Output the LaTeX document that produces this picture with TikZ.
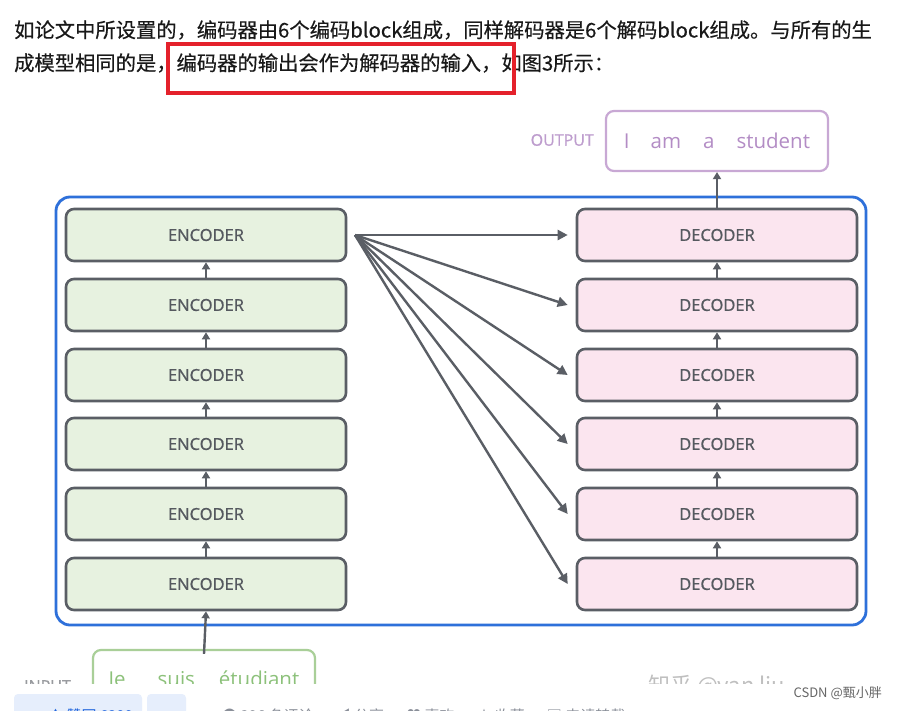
\documentclass[tikz,border=0pt]{standalone}
\usepackage{fontspec}
\setmainfont{Open Sans}
\newfontfamily\cjk{Noto Sans CJK SC}
\newfontfamily\cjkb[FakeBold=0.4]{Noto Sans CJK SC}
\newfontfamily\osans{Open Sans}
\newfontfamily\osemi[FakeBold=0.9]{Open Sans}
\usetikzlibrary{arrows.meta}
\definecolor{boxline}{HTML}{5A5E65}
\definecolor{encfill}{HTML}{E7F2E0}
\definecolor{decfill}{HTML}{FBE5EF}
\definecolor{outerblue}{HTML}{2E70DA}
\definecolor{redmark}{HTML}{E4212B}
\definecolor{labelgray}{HTML}{55595F}
\definecolor{outline}{HTML}{C8A8D4}
\definecolor{outtext}{HTML}{B38CC5}
\definecolor{inline}{HTML}{A9CF98}
\definecolor{intext}{HTML}{8CC17A}
\definecolor{barblue}{HTML}{E6EEFC}
\definecolor{linkblue}{HTML}{2266DD}
\definecolor{bargray}{HTML}{8A8F99}
\tikzset{
  block/.style={draw=boxline, line width=2.6pt, rounded corners=8pt, minimum width=280pt, minimum height=52pt, inner sep=0pt, font=\osemi\fontsize{16.5}{16.5}\selectfont, text=labelgray},
  encbox/.style={block, fill=encfill},
  decbox/.style={block, fill=decfill},
  arr/.style={draw=boxline, line width=2.4pt, -{Triangle[length=10pt,width=10pt]}},
  sarr/.style={draw=boxline, line width=2.4pt, -{Triangle[length=7pt,width=8pt]}},
  bodytext/.style={anchor=west, inner sep=0pt, font=\cjkb\fontsize{20.3}{20.3}\selectfont, text=black!90},
}
\begin{document}
\begin{tikzpicture}[x=1pt,y=-1pt]
\useasboundingbox (0,0) rectangle (897,710);
\fill[white] (0,0) rectangle (897,710);
% body text
\node[bodytext] (t1) at (14,30) {如论文中所设置的，编码器由6个编码block组成，同样解码器是6个解码block组成。与所有的生};
\node[bodytext] (t2) at (14,63) {成模型相同的是，编码器的输出会作为解码器的输入，如图3所示：};
\draw[redmark, line width=4pt] (168,44) rectangle (514,93);
% outer box
\draw[outerblue, line width=2.8pt, rounded corners=14pt] (56,197) rectangle (866,625);
% encoders and decoders
\foreach \i/\y in {1/235,2/305,3/375,4/444,5/514,6/584}{
  \node[encbox] (e\i) at (206,\y) {ENCODER};
  \node[decbox] (d\i) at (717,\y) {DECODER};
}
\foreach \a/\b in {2/1,3/2,4/3,5/4,6/5}{
  \draw[sarr] (e\a.north) -- (e\b.south);
  \draw[sarr] (d\a.north) -- (d\b.south);
}
% fan of connections
\coordinate (fan) at (355,235);
\foreach \i in {1,...,6}{
  \draw[arr] (fan) -- ([xshift=-8pt]d\i.west);
}
% output
\node[draw=outline, line width=2.2pt, rounded corners=8pt, minimum width=222pt, minimum height=60pt, font=\osans\fontsize{20.5}{20.5}\selectfont, text=outtext] (out) at (717,141) {I\hspace{21pt}am\hspace{22pt}a\hspace{22pt}student};
\node[font=\osemi\fontsize{16}{16}\selectfont, text=outtext!85, anchor=east, inner sep=0pt] (outlbl) at (594,140) {OUTPUT};
\draw[sarr] (d1.north) -- (out.south);
% input (clipped by the screenshot)
\begin{scope}
\clip (0,0) rectangle (897,683);
\node[draw=inline, line width=2.2pt, rounded corners=8pt, minimum width=222pt, minimum height=62pt, font=\osans\fontsize{20.5}{20.5}\selectfont, text=intext] (in) at (204,681) {Je\hspace{32pt}suis\hspace{24pt}étudiant};
\node[font=\osemi\fontsize{16}{16}\selectfont, text=labelgray!60, anchor=west, inner sep=0pt] (inlbl) at (24,686) {INPUT};
\node[font=\cjk\fontsize{22}{22}\selectfont, text=black!25, anchor=west, inner sep=0pt] (wm) at (648,686) {知乎 @van liu};
\end{scope}
\draw[sarr] ([yshift=-5pt]in.north) -- (e6.south);
% CSDN watermark
\node[font=\cjk\fontsize{13}{13}\selectfont, text=black!60, anchor=east, inner sep=0pt] (csdn) at (882,693) {CSDN @甄小胖};
% bottom toolbar (cut by the screenshot)
\begin{scope}
\clip (0,683) rectangle (897,710);
\fill[barblue, rounded corners=4pt] (14,694) rectangle (142,725);
\fill[barblue, rounded corners=4pt] (147,694) rectangle (186,725);
\node[font=\cjk\fontsize{15}{15}\selectfont, text=linkblue, anchor=west, inner sep=0pt] (vote) at (48,716) {▲ 赞同 6299};
\node[font=\cjk\fontsize{15}{15}\selectfont, text=bargray, anchor=west, inner sep=0pt] (bar) at (222,716) {● 296 条评论\hspace{22pt}◀ 分享\hspace{22pt}♥ 喜欢\hspace{22pt}★ 收藏\hspace{22pt}▣ 申请转载};
\end{scope}
\end{tikzpicture}
\end{document}
